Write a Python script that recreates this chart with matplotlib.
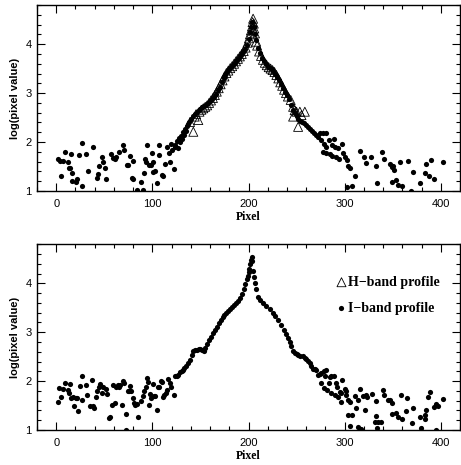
import matplotlib
matplotlib.use("Agg")
import matplotlib.pyplot as plt
from matplotlib.ticker import MultipleLocator
import numpy as np

# ---------------- data ----------------
# Top panel, I-band profile (dots)
top_i_x = [1.4, 4.2, 4.8, 6.9, 9.3, 12.1, 13.8, 14.5, 15.6, 16.3, 16.6, 20.8, 21.1, 23.9, 26.3, 27.0,
           31.1, 32.9, 38.1, 42.2, 43.3, 44.6, 47.1, 48.4, 51.2, 52.2, 56.7, 59.5, 61.6, 62.3, 65.1,
           69.2, 70.6, 73.7, 75.1, 77.2, 78.9, 79.6, 80.3, 83.7, 88.6, 90.0, 91.3, 92.0, 93.4, 94.1,
           96.2, 98.3, 99.7, 100.7, 101.0, 103.1, 104.5, 106.6, 107.3, 110.0, 111.4, 112.8, 114.9,
           117.0, 118.3, 119.0, 120.4, 122.1, 123.2,
           124, 126, 126.5, 128, 129, 130, 131, 132, 133, 134, 135, 136, 137, 138, 140, 142, 144, 146,
           148, 150, 152, 154, 156, 158, 160, 162, 164, 166, 168, 170, 172, 174, 176, 178, 180, 182,
           184, 186, 188, 190, 192, 194, 196, 198, 200, 202, 203, 204, 206, 207, 208, 210, 212, 214,
           216, 218, 220, 222, 224, 226, 228, 230, 232, 234, 236, 238, 240, 242, 244, 246, 248, 250,
           252, 254, 256, 258, 260, 262, 264, 266, 268, 270,
           272.4, 274.8, 277.6, 280.4, 275.9, 278.6, 281.1, 283.5, 288.7, 286.6, 289.7, 293.2, 277.6,
           281.1, 284.5, 287.3, 290.8, 294.2, 297.0, 298.4, 300.1, 302.5, 303.6, 305.3, 311.2, 302.9,
           308.1, 315.7, 320.5, 322.0, 327.8, 333.0, 333.7, 339.2, 340.6, 346.8, 348.9, 350.3, 351.3,
           348.9, 353.8, 355.5, 358.0, 360.0, 365.9, 369.3, 371.4, 378.3, 383.5, 384.9, 387.7, 389.4,
           392.5, 402.2]
top_i_y = [1.65, 1.61, 1.31, 1.61, 1.80, 1.59, 1.48, 1.48, 1.75, 1.37, 1.20, 1.19, 1.24, 1.73, 1.11, 1.99,
           1.75, 1.40, 1.90, 1.26, 1.34, 1.51, 1.70, 1.59, 1.46, 1.25, 1.76, 1.67, 1.65, 1.69, 1.80,
           1.93, 1.84, 1.54, 1.54, 1.71, 1.27, 1.62, 1.25, 1.03, 1.19, 1.02, 1.37, 1.65, 1.59, 1.94,
           1.54, 1.53, 1.78, 1.60, 1.39, 1.41, 1.16, 1.73, 1.93, 1.33, 1.31, 1.56, 1.90,
           1.77, 1.60, 1.96, 1.84, 1.44, 1.90,
           1.95, 2.02, 1.88, 2.08, 2.00, 2.13, 2.07, 2.20, 2.14, 2.27, 2.22, 2.33, 2.36, 2.40, 2.47, 2.53, 2.58, 2.62,
           2.65, 2.68, 2.71, 2.74, 2.76, 2.80, 2.84, 2.88, 2.93, 2.99, 3.06, 3.13, 3.22, 3.30, 3.38, 3.44, 3.49, 3.53,
           3.57, 3.62, 3.67, 3.72, 3.77, 3.83, 3.90, 3.98, 4.10, 4.25, 4.35, 4.45, 4.35, 4.20, 4.08, 3.93, 3.81, 3.72,
           3.65, 3.59, 3.54, 3.51, 3.49, 3.46, 3.40, 3.33, 3.26, 3.18, 3.10, 3.03, 2.96, 2.87, 2.76, 2.66, 2.59, 2.53,
           2.48, 2.44, 2.41, 2.38, 2.35, 2.30, 2.26, 2.22, 2.18, 2.14,
           2.11, 2.18, 2.19, 2.18, 2.04, 1.97, 1.90, 2.05, 2.07, 1.94, 1.90, 1.87, 1.80,
           1.77, 1.76, 1.71, 1.70, 1.65, 1.97, 1.77, 1.70, 1.63, 1.52, 1.46, 1.31, 1.09,
           1.11, 1.82, 1.69, 1.58, 1.70, 1.52, 1.16, 1.80, 1.65, 1.55, 1.50, 1.52, 1.43,
           1.19, 1.22, 1.12, 1.59, 1.10, 1.61, 1.01, 1.38, 1.17, 1.37, 1.55, 1.31, 1.63,
           1.24, 1.60]

# Top panel, H-band profile (open triangles)
top_h_x = [139.2, 142.6, 144, 145.5, 147.8, 149, 151, 153, 155, 157, 159, 161, 163, 165, 167, 169, 171,
           173, 175, 177, 179, 181, 183, 185, 187, 189, 191, 193, 195, 197, 199, 200.5, 201.5, 202.5,
           203.5, 204.2, 204.8, 205.5, 206, 206.8, 208, 209, 211, 213, 215, 217, 219, 221, 223, 225,
           227, 229, 231, 233, 235, 237, 239, 241, 243.9, 246.4, 246.4, 248, 249.9, 251.6, 253.4,
           255.1, 258.6]
top_h_y = [2.41, 2.21, 2.52, 2.57, 2.45, 2.62, 2.66, 2.69, 2.72, 2.75, 2.80, 2.85, 2.90, 2.96, 3.03, 3.10, 3.18,
           3.26, 3.34, 3.41, 3.46, 3.51, 3.55, 3.60, 3.65, 3.70, 3.75, 3.80, 3.86, 3.93, 4.03, 4.12, 4.20, 4.28,
           4.36, 4.45, 4.52, 4.42, 4.32, 4.22, 4.05, 3.97, 3.85, 3.76, 3.68, 3.62, 3.57, 3.53, 3.50, 3.47,
           3.43, 3.37, 3.30, 3.22, 3.15, 3.07, 3.00, 2.93, 2.86, 2.72, 2.52, 2.65, 2.62, 2.31, 2.62,
           2.55, 2.62]

# Bottom panel, I-band profile (dots)
bot_i_x = [1.4, 2.8, 5.2, 6.9, 9.0, 12.5, 13.8, 14.5, 15.6, 17.0, 18.7, 20.1, 21.1, 22.5, 24.9, 26.6, 27.3,
           30.8, 32.5, 34.9, 37.7, 38.4, 39.8, 41.2, 42.9, 44.6, 45.7, 47.4, 49.1, 51.9, 52.6, 55.4, 56.4,
           57.8, 59.5, 60.9, 62.6, 64.4, 65.4, 66.4, 68.5, 69.6, 70.9, 72.3, 73.0, 74.4, 75.4, 76.5, 77.5,
           79.6, 81.3, 82.0, 83.7, 85.5, 87.9, 90.0, 91.0, 93.1, 94.1, 95.2, 96.2, 97.6, 98.6, 100.7, 102.1,
           103.1, 104.8, 106.2, 107.3, 108.7, 110.4, 110.7, 112.1, 113.8, 114.9, 116.6, 118.3, 119.7, 122.1,
           123.5, 125.3, 126.6, 128.7, 130.4, 132.2,
           133, 135, 137, 139, 141, 142.6, 144, 146, 148, 150, 152, 153.7, 155, 157, 159, 161, 163, 165,
           167, 169, 171, 173, 175, 177, 179, 181, 183, 185, 187, 189, 191, 193, 195, 196.5, 198, 199,
           200, 201, 202, 202.5, 203.2, 203.8, 204.9, 205.6, 206.6, 208, 210.1, 212, 215.3, 218, 222,
           225, 228, 231, 234, 237, 239, 241, 243, 244.7, 246.4, 248, 250, 251.6, 254, 256.8, 258.5,
           260.3, 262, 263.8, 265.5, 267.2, 269, 270.6, 272.4, 274, 275.9, 278.3, 281.1, 279.4,
           275.9, 278.3, 281.8, 283.5, 284.5, 286.3, 288.7, 291.4, 292.1, 294.9, 296.6, 297.7, 300.1,
           301.8, 303.6, 305.3, 286.3, 289.7, 293.2, 296.6, 301.1, 310.5, 313.9, 315.7, 319.1, 321.9,
           323.3, 328.5, 332.3, 339.9, 345.1, 303.9, 308.1, 311.5, 320.9, 313.9, 317.4, 333.0, 331.3,
           334.7, 334.0, 305.3,
           338.2, 340.6, 347.5, 349.6, 349.6, 353.8, 355.5, 360.0, 358.9, 364.1, 365.2, 369.7, 371.1,
           377.9, 379.7, 383.8, 383.2, 385.0, 386.8, 389.2, 392.6, 394.7, 397.1, 394.6, 402.2]
bot_i_y = [1.57, 1.85, 1.68, 1.84, 1.96, 1.82, 1.75, 1.94, 1.65, 1.68, 1.50, 1.65, 1.65, 1.38, 1.91, 2.10, 1.62,
           1.92, 1.72, 1.50, 2.03, 1.49, 1.44, 1.68, 1.79, 1.89, 1.94, 1.75, 1.89, 1.84, 1.74, 1.24, 1.27,
           1.51, 1.92, 1.55, 1.89, 1.92, 1.88, 1.92, 1.51, 2.01, 1.96, 1.33, 1.00, 1.79, 1.79, 1.90, 1.79,
           1.65, 1.55, 1.51, 1.53, 1.26, 1.60, 1.70, 1.79, 1.89, 2.06, 1.99, 1.51, 1.74, 1.65, 1.94, 1.70,
           1.70, 1.41, 1.89, 1.89, 2.01, 1.99, 1.68, 1.72, 1.75, 1.82, 2.04, 1.96, 1.89, 1.72,
           2.10, 2.10, 2.12, 2.18, 2.20, 2.23,
           2.26, 2.31, 2.38, 2.44, 2.53, 2.61, 2.63, 2.64, 2.65, 2.65, 2.64, 2.61, 2.68, 2.76, 2.84, 2.91, 2.98, 3.04,
           3.11, 3.18, 3.25, 3.31, 3.36, 3.40, 3.44, 3.47, 3.51, 3.55, 3.59, 3.64, 3.70, 3.78, 3.88, 3.98, 4.08, 4.16,
           4.23, 4.30, 4.40, 4.47, 4.53, 4.45, 4.25, 4.13, 4.01, 3.88, 3.72, 3.66, 3.60, 3.54, 3.47,
           3.40, 3.33, 3.25, 3.15, 3.05, 2.97, 2.88, 2.81, 2.71, 2.61, 2.57, 2.55, 2.54, 2.52, 2.51, 2.48,
           2.45, 2.41, 2.38, 2.31, 2.25, 2.24, 2.23, 2.13, 2.15, 2.16, 2.20, 2.22, 2.10,
           1.96, 1.86, 1.82, 1.96, 2.08, 2.11, 2.10, 1.97, 1.88, 1.77, 1.75, 2.03, 1.84,
           1.72, 1.62, 1.58, 1.75, 1.72, 1.68, 1.58, 1.79, 1.70, 1.62, 1.84, 1.70, 1.72,
           1.67, 1.74, 1.60, 1.82, 1.62, 1.31, 1.31, 1.44, 1.41, 1.07, 1.03, 1.29, 1.17,
           1.17, 1.05, 1.08,
           1.17, 1.72, 1.62, 1.56, 1.33, 1.34, 1.26, 1.22, 1.72, 1.38, 1.65, 1.14, 1.44,
           1.26, 1.05, 1.31, 1.22, 1.40, 1.68, 1.77, 1.48, 1.53, 1.50, 1.01, 1.63]

x_ticks = [0, 100, 200, 300, 400]
y_ticks = [1, 2, 3, 4]
x_label = "Pixel"
y_label = "log(pixel value)"
legend_labels = ["H\u2212band profile", "I\u2212band profile"]

# ---------------- figure ----------------
W, H = 461, 465
fig = plt.figure(figsize=(W / 100, H / 100), dpi=100)

sans = ["Liberation Sans", "DejaVu Sans"]
serif = ["Liberation Serif", "DejaVu Serif"]

ax_top = fig.add_axes([37 / W, 1 - 191 / H, (460 - 37) / W, (191 - 5) / H])
ax_bot = fig.add_axes([37 / W, 1 - 430 / H, (460 - 37) / W, (430 - 244.3) / H])

DOT_S = 14
TRI_S = 42


def style(ax):
    ax.set_xlim(-20, 420)
    ax.set_ylim(1, 4.8)
    ax.set_xticks(x_ticks)
    ax.set_yticks(y_ticks)
    ax.xaxis.set_minor_locator(MultipleLocator(20))
    ax.yaxis.set_minor_locator(MultipleLocator(0.2))
    ax.tick_params(which="both", direction="in", top=True, right=True, width=0.8, colors="black")
    ax.tick_params(which="major", length=6)
    ax.tick_params(which="minor", length=3)
    ax.tick_params(axis="x", pad=6)
    ax.tick_params(axis="y", pad=4)
    for lab in ax.get_xticklabels() + ax.get_yticklabels():
        lab.set_family(sans)
        lab.set_fontsize(8)
    for s in ax.spines.values():
        s.set_linewidth(1.0)
    ax.set_xlabel(x_label, family=serif, fontweight="bold", fontsize=8.5, labelpad=1)
    ax.set_ylabel(y_label, family=sans, fontweight="bold", fontsize=8, labelpad=4)


# top panel
ax_top.scatter(top_i_x, top_i_y, s=DOT_S, c="black", marker="o", linewidths=0, zorder=2)
ax_top.scatter(top_h_x, top_h_y, s=TRI_S, facecolors="none", edgecolors="black", marker="^",
               linewidths=0.6, zorder=3)
style(ax_top)

# bottom panel
hb = ax_bot.scatter([], [], s=TRI_S, facecolors="none", edgecolors="black", marker="^", linewidths=0.6)
ib = ax_bot.scatter(bot_i_x, bot_i_y, s=DOT_S, c="black", marker="o", linewidths=0, zorder=2)
style(ax_bot)

leg = ax_bot.legend([hb, ib], legend_labels, loc="upper left", bbox_to_anchor=(0.71, 0.83),
                    frameon=False, handlelength=0.6, handletextpad=0.15, labelspacing=0.95,
                    borderpad=0, borderaxespad=0, scatterpoints=1,
                    prop={"family": serif, "weight": "bold", "size": 10})

fig.savefig("out.png", dpi=100)
